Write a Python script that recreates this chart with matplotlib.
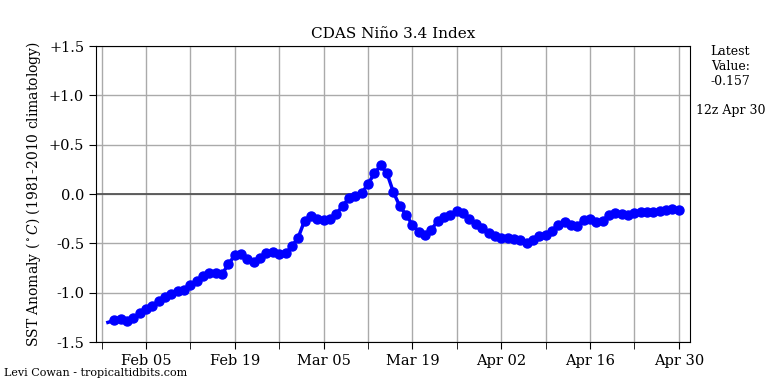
import datetime as dt
import matplotlib
matplotlib.use('Agg')
import matplotlib.pyplot as plt
import matplotlib.dates as mdates
from matplotlib.ticker import FixedLocator

plt.rcParams['font.family'] = 'DejaVu Serif'
plt.rcParams['mathtext.fontset'] = 'dejavuserif'

# Daily Nino 3.4 anomaly, Jan 30 - Apr 30
start_date = dt.date(2025, 1, 30)
anomaly = [
    -1.30, -1.28, -1.27, -1.29, -1.26, -1.20, -1.16, -1.13, -1.08, -1.04,
    -1.01, -0.98, -0.97, -0.92, -0.88, -0.83, -0.80, -0.80, -0.81, -0.71,
    -0.62, -0.61, -0.66, -0.69, -0.65, -0.60, -0.59, -0.61, -0.60, -0.53,
    -0.44, -0.27, -0.22, -0.25, -0.26, -0.25, -0.20, -0.12, -0.04, -0.02,
    0.01, 0.10, 0.21, 0.29, 0.21, 0.02, -0.12, -0.21, -0.31, -0.38,
    -0.41, -0.36, -0.27, -0.23, -0.21, -0.17, -0.19, -0.25, -0.30, -0.34,
    -0.39, -0.42, -0.44, -0.44, -0.45, -0.47, -0.50, -0.46, -0.42, -0.41,
    -0.37, -0.31, -0.28, -0.31, -0.32, -0.26, -0.25, -0.28, -0.27, -0.21,
    -0.19, -0.20, -0.21, -0.19, -0.18, -0.18, -0.18, -0.17, -0.16, -0.15,
    -0.157,
]
dates = [start_date + dt.timedelta(days=i) for i in range(len(anomaly))]
ytick_vals = [-1.5, -1.0, -0.5, 0.0, 0.5, 1.0, 1.5]
ytick_labels = ['-1.5', '-1.0', '-0.5', '0.0', '+0.5', '+1.0', '+1.5']

fig = plt.figure(figsize=(7.68, 3.84), dpi=100)
ax = fig.add_axes([0.125, 0.109, 0.773, 0.771])

ax.plot(dates, anomaly, color='blue', lw=2.5, marker='o', markersize=6.5,
        markevery=list(range(1, len(anomaly))), zorder=3)
ax.axhline(0, color='#555555', lw=1.3, zorder=2)

ax.set_xlim(dt.datetime(2025, 1, 28, 3), dt.datetime(2025, 5, 1, 17))
ax.set_ylim(-1.5, 1.5)

major = [dt.date(2025, 2, 5) + dt.timedelta(days=14 * i) for i in range(7)]
minor = [dt.date(2025, 1, 29) + dt.timedelta(days=14 * i) for i in range(7)]
ax.xaxis.set_major_locator(FixedLocator(mdates.date2num(major)))
ax.xaxis.set_minor_locator(FixedLocator(mdates.date2num(minor)))
ax.xaxis.set_major_formatter(mdates.DateFormatter('%b %d'))
ax.tick_params(axis='x', which='both', length=5, labelsize=10.5)
ax.tick_params(axis='y', length=5, labelsize=10.5)
ax.set_yticks(ytick_vals)
ax.set_yticklabels(ytick_labels)

ax.grid(True, which='both', color='#aaaaaa', lw=1)
ax.set_axisbelow(True)

ax.set_title('CDAS Niño 3.4 Index', fontsize=11)
ax.set_ylabel(r'SST Anomaly ($^\circ C$) (1981-2010 climatology)', fontsize=10)

fig.text(0.951, 0.882, 'Latest\nValue:\n%.3f' % anomaly[-1], ha='center', va='top', fontsize=9)
fig.text(0.951, 0.711, '12z Apr 30', ha='center', va='center', fontsize=9)
fig.text(0.005, 0.028, 'Levi Cowan - tropicaltidbits.com', ha='left', va='center', fontsize=8)

fig.savefig('out.png', dpi=100)
